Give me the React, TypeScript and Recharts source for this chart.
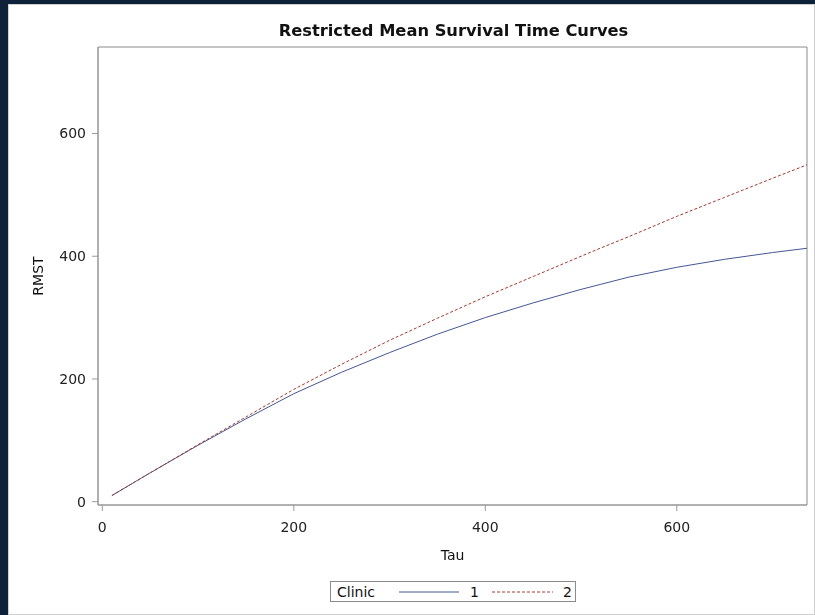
import React from 'react'
import { LineChart, Line, XAxis, YAxis, ReferenceArea } from 'recharts'

// RMST at each truncation time tau, per clinic
const tauValues = [10, 50, 100, 150, 200, 250, 300, 350, 400, 450, 500, 520, 550, 600, 650, 700, 736]
const clinic1Rmst = [10, 47, 92, 135, 176, 211, 243, 273, 300, 324, 346, 354, 366, 382, 395, 406, 413]
const clinic2Rmst = [10, 47, 93, 138, 183, 224, 263, 299, 334, 367, 400, 413, 432, 465, 496, 527, 549]

const xTicks = [0, 200, 400, 600]
const yTicks = [0, 200, 400, 600]

const X_MIN = -4.5
const X_MAX = 736
const Y_MIN = -5.4
const Y_MAX = 741

const BLUE = '#445694'
const RED = '#A23A2E'
const AXIS = '#9a9a9a'
const FONT = '"DejaVu Sans", sans-serif'

const rows = tauValues.map((tau, i) => ({
  tau,
  c1: clinic1Rmst[i],
  c2: clinic2Rmst[i],
}))

function ClinicLegend() {
  return (
    <div
      style={{
        position: 'absolute',
        left: 321,
        top: 576,
        width: 246,
        height: 21,
        boxSizing: 'border-box',
        border: '1px solid #8a8a8a',
        display: 'flex',
        alignItems: 'center',
        fontFamily: FONT,
        fontSize: 14,
        color: '#111',
        paddingLeft: 6,
      }}
    >
      <span>Clinic</span>
      <svg width={60} height={4} style={{ marginLeft: 24 }}>
        <line x1={0} y1={2} x2={60} y2={2} stroke={BLUE} strokeWidth={1} />
      </svg>
      <span style={{ marginLeft: 11 }}>1</span>
      <svg width={61} height={4} style={{ marginLeft: 13 }}>
        <line x1={0} y1={2} x2={61} y2={2} stroke={RED} strokeWidth={1} strokeDasharray="3 2" />
      </svg>
      <span style={{ marginLeft: 10 }}>2</span>
    </div>
  )
}

export default function App() {
  return (
    <div style={{ position: 'fixed', inset: 0, background: '#0d2238' }}>
      <div
        style={{
          position: 'absolute',
          left: 8,
          top: 4,
          width: 807,
          height: 611,
          boxSizing: 'border-box',
          background: '#fff',
          border: '1px solid #cfcfcf',
        }}
      >
        <div
          style={{
            position: 'absolute',
            left: 0,
            top: 16,
            width: 889,
            textAlign: 'center',
            fontFamily: FONT,
            fontWeight: 'bold',
            fontSize: 16.3,
            color: '#111',
          }}
        >
          Restricted Mean Survival Time Curves
        </div>
        <LineChart
          width={807}
          height={560}
          data={rows}
          margin={{ top: 43, right: 8, bottom: 3, left: 0 }}
          style={{ position: 'absolute', left: -1, top: -1 }}
        >
          <ReferenceArea
            x1={X_MIN}
            x2={X_MAX}
            y1={Y_MIN}
            y2={Y_MAX}
            fill="none"
            stroke="#8c8c8c"
            strokeWidth={1}
            ifOverflow="visible"
          />
          <XAxis
            dataKey="tau"
            type="number"
            domain={[X_MIN, X_MAX]}
            ticks={xTicks}
            allowDataOverflow
            height={56}
            tickSize={6}
            tickMargin={11}
            axisLine={{ stroke: AXIS }}
            tickLine={{ stroke: AXIS }}
            tick={{ fill: '#222', fontSize: 14, fontFamily: FONT }}
            label={{ value: 'Tau', position: 'insideBottom', offset: 1, fill: '#111', fontSize: 14, fontFamily: FONT }}
          />
          <YAxis
            type="number"
            domain={[Y_MIN, Y_MAX]}
            ticks={yTicks}
            allowDataOverflow
            width={90}
            tickSize={6}
            tickMargin={6}
            axisLine={{ stroke: AXIS }}
            tickLine={{ stroke: AXIS }}
            tick={{ fill: '#222', fontSize: 14, fontFamily: FONT }}
            label={{
              content: () => (
                <text
                  x={30}
                  y={272}
                  transform="rotate(-90 30 272)"
                  textAnchor="middle"
                  dominantBaseline="central"
                  fill="#111"
                  fontSize={14}
                  fontFamily={FONT}
                >
                  RMST
                </text>
              ),
            }}
          />
          <Line
            dataKey="c1"
            name="1"
            type="linear"
            stroke={BLUE}
            strokeWidth={1}
            dot={false}
            isAnimationActive={false}
          />
          <Line
            dataKey="c2"
            name="2"
            type="linear"
            stroke={RED}
            strokeWidth={1}
            strokeDasharray="3 2"
            dot={false}
            isAnimationActive={false}
          />
        </LineChart>
        <ClinicLegend />
      </div>
    </div>
  )
}
